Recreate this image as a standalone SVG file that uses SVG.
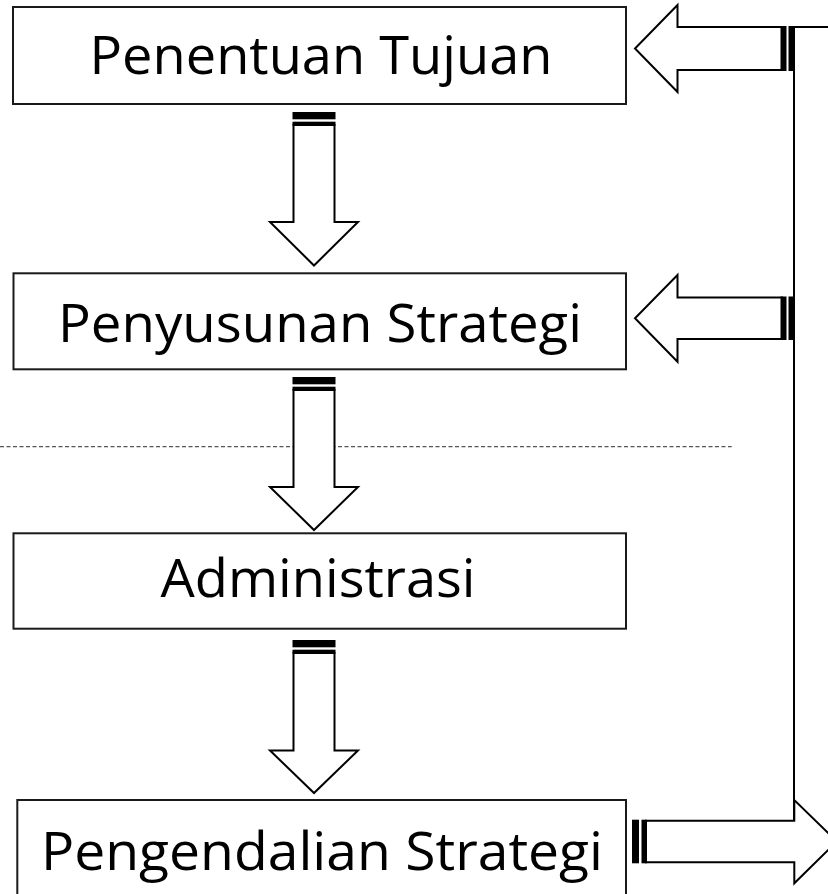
<svg xmlns="http://www.w3.org/2000/svg" width="828" height="894" viewBox="0 0 828 894">
  <style>
    .box { fill: none; stroke: #1a1a1a; stroke-width: 2; }
    .lbl { font-family: "Open Sans", "Noto Sans", "Liberation Sans", sans-serif; font-size: 53px; fill: #000; }
    .arr { fill: #fff; stroke: #000; stroke-width: 2; stroke-linejoin: miter; }
    .bar { fill: #000; }
    .ln { fill: none; stroke: #000; stroke-width: 2; }
    .dash { fill: none; stroke: #555; stroke-width: 1.3; stroke-dasharray: 4 2.5; }
  </style>
  <rect x="0" y="0" width="828" height="894" fill="#fff"/>

  <g id="connectors">
    <line class="dash" x1="0" y1="446.7" x2="731.7" y2="446.7"/>
    <!-- down arrow 1 -->
    <g id="arrow-down-1">
      <path class="arr" d="M293.5,125 L334.5,125 L334.5,222 L358,222 L314,265.5 L270,222 L293.5,222 Z"/>
      <rect class="bar" x="292.5" y="112" width="43" height="7.3"/>
      <rect class="bar" x="292.5" y="121.7" width="43" height="4"/>
    </g>
    <!-- down arrow 2 -->
    <g id="arrow-down-2">
      <path class="arr" d="M293.5,390 L334.5,390 L334.5,487 L358,487 L314,530 L270,487 L293.5,487 Z"/>
      <rect class="bar" x="292.5" y="377" width="43" height="7.3"/>
      <rect class="bar" x="292.5" y="386.7" width="43" height="4"/>
    </g>
    <!-- down arrow 3 -->
    <g id="arrow-down-3">
      <path class="arr" d="M293.5,653 L334.5,653 L334.5,750.5 L358,750.5 L314,793 L270,750.5 L293.5,750.5 Z"/>
      <rect class="bar" x="292.5" y="640" width="43" height="7.3"/>
      <rect class="bar" x="292.5" y="649.7" width="43" height="4"/>
    </g>
    <!-- feedback line -->
    <line class="ln" x1="794" y1="27" x2="794" y2="821"/>
    <line class="ln" x1="794" y1="27" x2="828" y2="27"/>
    <!-- left arrow 1 -->
    <g id="arrow-left-1">
      <path class="arr" d="M782,27 L677.5,27 L677.5,5 L635,48.5 L677.5,92 L677.5,70 L782,70 Z"/>
      <rect class="bar" x="780.5" y="26" width="6" height="45"/>
      <rect class="bar" x="788.5" y="26" width="6.5" height="45"/>
    </g>
    <!-- left arrow 2 -->
    <g id="arrow-left-2">
      <path class="arr" d="M782,297.5 L677.5,297.5 L677.5,275 L635,318.3 L677.5,361.7 L677.5,339 L782,339 Z"/>
      <rect class="bar" x="780.5" y="296.5" width="6" height="43.5"/>
      <rect class="bar" x="788.5" y="296.5" width="6.5" height="43.5"/>
    </g>
    <!-- right arrow -->
    <g id="arrow-right">
      <path class="arr" d="M646,820.7 L794.3,820.7 L794.3,800 L836.8,841.5 L794.3,883.3 L794.3,862.3 L646,862.3 Z"/>
      <rect class="bar" x="632" y="819.7" width="7" height="43.6"/>
      <rect class="bar" x="641.5" y="819.7" width="5.5" height="43.6"/>
    </g>
  </g>

  <g id="node-penentuan-tujuan">
    <rect class="box" x="13" y="7" width="613" height="97"/>
    <text class="lbl" x="89.5" y="74.3" textLength="463" lengthAdjust="spacingAndGlyphs">Penentuan Tujuan</text>
  </g>
  <g id="node-penyusunan-strategi">
    <rect class="box" x="13.5" y="273.3" width="612.5" height="96"/>
    <text class="lbl" x="58" y="341.7" textLength="524" lengthAdjust="spacingAndGlyphs">Penyusunan Strategi</text>
  </g>
  <g id="node-administrasi">
    <rect class="box" x="13.5" y="533.3" width="612.5" height="95.4"/>
    <text class="lbl" x="160.5" y="596.7" textLength="315" lengthAdjust="spacingAndGlyphs">Administrasi</text>
  </g>
  <g id="node-pengendalian-strategi">
    <rect class="box" x="17.3" y="800" width="608.7" height="100"/>
    <text class="lbl" x="41" y="870" textLength="562" lengthAdjust="spacingAndGlyphs">Pengendalian Strategi</text>
  </g>
</svg>
